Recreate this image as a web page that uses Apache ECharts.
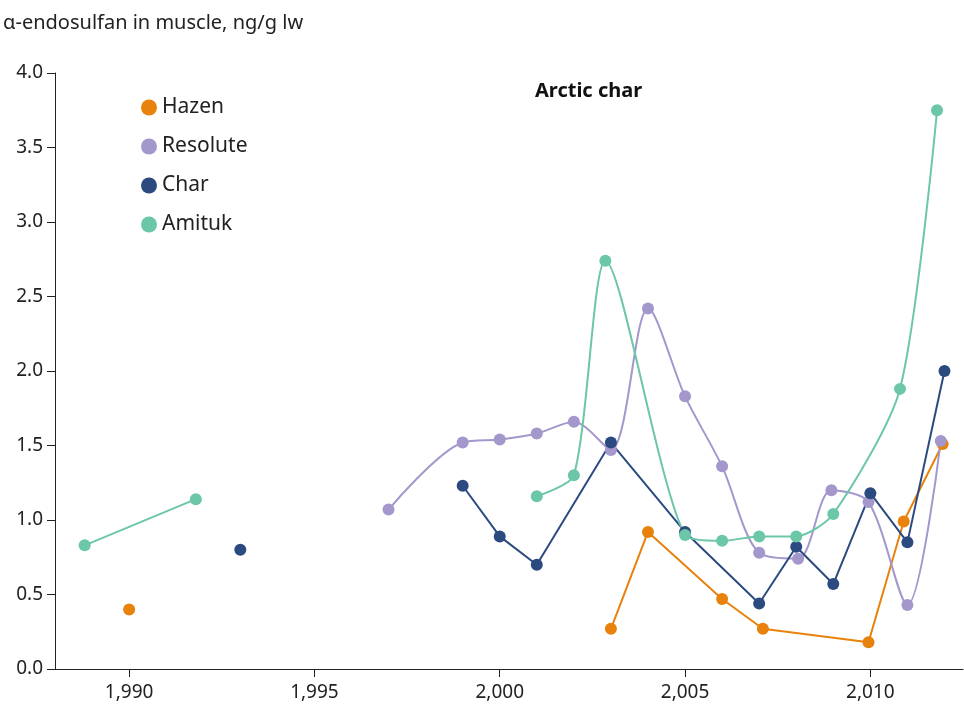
<!DOCTYPE html><html><head><meta charset="utf-8"><script src="https://cdn.jsdelivr.net/npm/echarts@6/dist/echarts.min.js"></script></head><body style="margin:0"><div id="c" style="width:964px;height:712px"></div><script>
const hazen=[[1990,0.40],null,[2003,0.27],[2004,0.92],[2006,0.47],[2007.1,0.27],[2009.95,0.18],[2010.9,0.99],[2011.95,1.51]];
const resolute=[[1997,1.07],[1999,1.52],[2000,1.54],[2001,1.58],[2002,1.66],[2003,1.47],[2004,2.42],[2005,1.83],[2006,1.36],[2007,0.78],[2008.05,0.74],[2008.95,1.20],[2009.95,1.12],[2011,0.43],[2011.9,1.53]];
const charS=[[1993,0.80],null,[1999,1.23],[2000,0.89],[2001,0.70],[2003,1.52],[2005,0.92],[2007,0.44],[2008,0.82],[2009,0.57],[2010,1.18],[2011,0.85],[2012,2.00]];
const amituk=[[1988.8,0.83],[1991.8,1.14],null,[2001,1.16],[2002,1.30],[2002.85,2.74],[2005,0.90],[2006,0.86],[2007,0.89],[2008,0.89],[2009,1.04],[2010.8,1.88],[2011.8,3.75]];
const xTicks=[1990,1995,2000,2005,2010];
const f='"Noto Sans",sans-serif';
function s(name,data,color,smooth){return {name,type:'line',data,smooth,connectNulls:false,symbol:'circle',symbolSize:12,itemStyle:{color},lineStyle:{color,width:2}};}
const ch=echarts.init(document.getElementById('c'));
ch.setOption({animation:false,textStyle:{fontFamily:f},
grid:{left:52,right:1,top:73,bottom:43},
title:{text:'Arctic char',left:530,top:76,textStyle:{fontSize:20,fontWeight:'bold',color:'#111',fontFamily:f}},
legend:{orient:'vertical',left:136,top:92,itemGap:18,itemWidth:16,itemHeight:16,icon:'circle',textStyle:{fontSize:21,color:'#222',fontFamily:f},data:['Hazen','Resolute','Char','Amituk']},
xAxis:{type:'value',min:1988,max:2012.5,axisLine:{lineStyle:{color:'#222'}},splitLine:{show:false},
axisTick:{customValues:xTicks,length:8,lineStyle:{color:'#222'}},axisLabel:{customValues:xTicks,fontSize:19,color:'#222',margin:14}},
yAxis:{type:'value',min:0,max:4,interval:0.5,name:'α-endosulfan in muscle, ng/g lw',nameLocation:'end',nameGap:40,nameTextStyle:{align:'left',fontSize:20,color:'#222',padding:[0,0,0,-52]},
axisLine:{show:true,lineStyle:{color:'#222'}},axisTick:{show:true,length:8,lineStyle:{color:'#222'}},splitLine:{show:false},
axisLabel:{fontSize:19,color:'#222',formatter:v=>v.toFixed(1),margin:12}},
series:[s('Hazen',hazen,'#e8820c',false),s('Resolute',resolute,'#a397cc',0.3),s('Char',charS,'#2b4a80',false),s('Amituk',amituk,'#6cc6a8',0.25)]});
</script></body></html>
